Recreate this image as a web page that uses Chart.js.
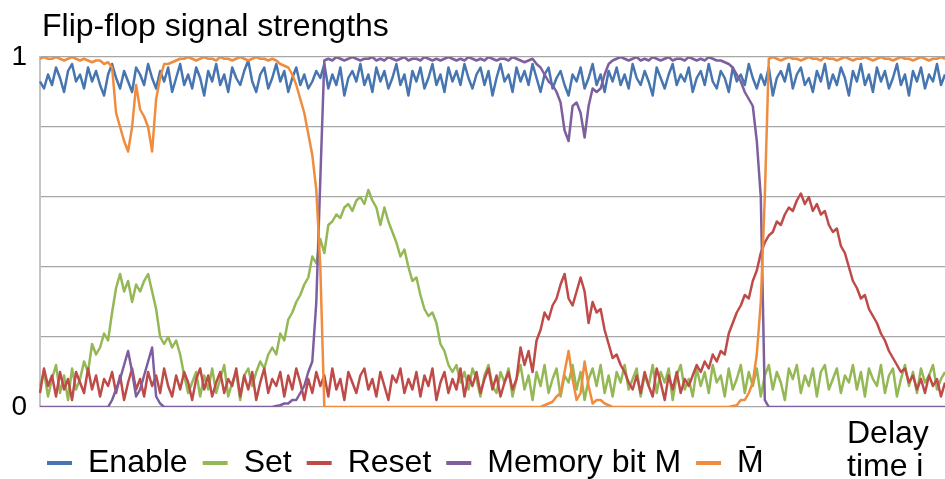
<!DOCTYPE html>
<html><head><meta charset="utf-8">
<script src="https://cdn.jsdelivr.net/npm/chart.js@4.4.0/dist/chart.umd.min.js"></script>
<style>html,body{margin:0;padding:0;background:#fff;}#wrap{width:945px;height:479px;position:relative;}</style>
</head><body><div id="wrap"><canvas id="c" width="945" height="479"></canvas></div>
<script>
const chartTitle = 'Flip-flop signal strengths';
const xAxisTitle = ['Delay', 'time i'];
const seriesNames = ['Enable', 'Set', 'Reset', 'Memory bit M', 'M\u0304'];
const yTickLabels = ['0', '', '', '', '', '1'];

const enable = [
.93,.91,.95,.92,.97,.94,.90,.96,.98,.93,
.95,.91,.97,.93,.96,.92,.89,.95,.98,.94,
.91,.96,.93,.90,.97,.95,.92,.98,.94,.91,
.96,.93,.97,.90,.94,.98,.92,.95,.91,.97,
.94,.89,.96,.93,.98,.92,.95,.90,.97,.94,
.92,.96,.99,.93,.90,.95,.97,.91,.94,.98,
.93,.96,.90,.94,.97,.92,.95,.91,.93,.96,
.94,.98,.91,.95,.92,.97,.89,.94,.96,.93,
.98,.92,.95,.90,.97,.93,.96,.91,.94,.98,
.92,.95,.89,.96,.93,.97,.91,.94,.98,.92,
.95,.90,.97,.93,.96,.92,.98,.94,.91,.95,
.97,.92,.96,.89,.94,.98,.93,.95,.90,.97,
.93,.96,.92,.98,.94,.90,.95,.97,.91,.94,
.96,.92,.89,.95,.93,.97,.91,.94,.98,.92,
.95,.90,.96,.93,.97,.92,.95,.91,.98,.94,
.92,.96,.93,.89,.97,.94,.91,.95,.98,.92,
.95,.93,.97,.90,.94,.96,.92,.98,.93,.91,
.96,.94,.90,.97,.93,.95,.92,.98,.94,.91,
.95,.92,.97,.89,.94,.96,.93,.98,.91,.95,
.97,.92,.94,.90,.96,.93,.98,.91,.95,.92,
.97,.94,.89,.96,.93,.98,.92,.95,.90,.97,
.93,.96,.91,.94,.98,.92,.95,.89,.96,.93,
.97,.91,.95,.93,.98,.92,.95];

const setSignal = [
.06,.10,.03,.08,.12,.04,.09,.02,.11,.05,
.08,.13,.10,.18,.15,.17,.21,.19,.27,.34,
.38,.33,.36,.30,.35,.33,.36,.38,.33,.28,
.20,.18,.20,.17,.19,.15,.09,.04,.07,.10,
.03,.09,.05,.11,.04,.08,.12,.03,.07,.10,
.02,.09,.11,.06,.10,.13,.11,.15,.17,.15,
.21,.19,.25,.27,.30,.32,.35,.37,.43,.41,
.48,.44,.52,.53,.55,.54,.57,.58,.56,.59,
.60,.58,.62,.59,.57,.52,.57,.53,.50,.47,
.43,.45,.40,.36,.37,.32,.28,.26,.27,.24,
.18,.16,.12,.10,.12,.07,.10,.05,.11,.08,
.03,.09,.12,.06,.04,.10,.07,.11,.03,.08,
.12,.05,.09,.02,.10,.06,.12,.04,.08,.11,
.03,.09,.07,.12,.05,.10,.02,.08,.11,.06,
.12,.04,.09,.03,.10,.07,.12,.05,.08,.11,
.03,.09,.06,.12,.04,.10,.07,.11,.02,.09,
.12,.05,.08,.03,.11,.06,.10,.04,.12,.07,
.09,.03,.11,.05,.08,.12,.04,.10,.06,.11,
.03,.09,.12,.05,.10,.07,.02,.11,.08,.12,
.04,.09,.06,.11,.03,.10,.12,.05,.08,.11,
.04,.09,.07,.12,.05,.10,.03,.11,.08,.06,
.12,.04,.09,.11,.03,.08,.12,.06,.10,.04,
.11,.07,.09,.12,.05,.08,.10];

const resetSignal = [
.04,.11,.06,.09,.03,.10,.05,.08,.02,.10,
.07,.04,.11,.05,.09,.03,.08,.06,.10,.04,
.09,.02,.07,.11,.05,.08,.03,.10,.06,.09,
.04,.11,.06,.03,.09,.05,.10,.07,.02,.08,
.11,.05,.09,.03,.07,.10,.04,.08,.06,.11,
.03,.09,.05,.10,.02,.07,.11,.04,.08,.06,
.10,.03,.09,.05,.11,.07,.02,.08,.04,.10,
.06,.09,.03,.11,.05,.08,.02,.10,.07,.04,
.09,.11,.05,.08,.03,.10,.06,.02,.09,.07,
.11,.04,.08,.05,.10,.03,.09,.06,.11,.02,
.07,.10,.04,.08,.05,.11,.03,.09,.06,.10,
.04,.08,.11,.05,.09,.03,.07,.10,.05,.08,
.17,.12,.16,.10,.19,.22,.27,.25,.29,.31,
.35,.38,.31,.29,.33,.37,.33,.24,.30,.27,
.28,.22,.18,.14,.15,.12,.10,.07,.05,.09,
.04,.10,.06,.03,.11,.07,.02,.09,.05,.10,
.04,.08,.06,.09,.12,.10,.13,.11,.15,.13,
.16,.15,.21,.24,.27,.29,.32,.31,.36,.39,
.44,.47,.49,.50,.53,.52,.55,.57,.56,.59,
.61,.58,.60,.56,.58,.55,.56,.52,.50,.51,
.46,.44,.40,.36,.34,.31,.32,.28,.26,.24,
.21,.19,.16,.14,.12,.10,.11,.07,.09,.05,
.08,.04,.09,.06,.08,.03,.07];

const memoryBit = [
0,0,0,0,0,0,0,0,0,0,
0,0,0,0,0,0,0,0,.02,.05,
.08,.12,.16,.10,.03,.05,.09,.13,.17,.03,
.01,0,0,0,0,0,0,0,0,0,
0,0,0,0,0,0,0,0,0,0,
0,0,0,0,0,0,0,0,0,.003,
.005,.01,.01,.02,.02,.04,.06,.10,.13,.30,
.65,.99,.995,.99,1,.995,.99,.995,1,.995,
.99,.995,.995,1,.99,.995,.99,1,.995,.99,
.995,1,.99,.995,.995,.99,1,.995,.99,.995,
.99,.995,1,.995,.99,.995,.99,1,.995,.99,
.995,.99,1,.995,.99,.995,.995,.99,1,.995,
.99,.985,.99,.995,.98,.97,.95,.93,.92,.90,
.87,.79,.76,.86,.87,.84,.77,.86,.91,.90,
.91,.95,.98,.99,.995,1,.995,.99,.995,1,
.99,.995,.99,1,.995,.99,.995,1,.99,.995,
.995,.99,1,.995,.99,.995,.99,1,.995,.99,
.99,.985,.98,.97,.95,.93,.90,.88,.86,.76,
.60,.02,0,0,0,0,0,0,0,0,
0,0,0,0,0,0,0,0,0,0,
0,0,0,0,0,0,0,0,0,0,
0,0,0,0,0,0,0,0,0,0,
0,0,0,0,0,0,0];

const memoryBitNot = [
.995,1,.995,.995,1,.995,.99,.995,1,.995,
.99,.995,.99,.985,.99,.99,.98,.985,.97,.84,
.80,.76,.73,.80,.92,.85,.83,.80,.73,.88,
.94,.98,.98,.985,.99,.995,.995,1,.995,.99,
.995,1,.995,.995,.99,1,.995,.995,.99,.995,
1,.995,.99,.995,1,.995,.995,.99,.995,.99,
.98,.975,.97,.95,.92,.88,.84,.78,.72,.62,
.40,0,0,0,0,0,0,0,0,0,
0,0,0,0,0,0,0,0,0,0,
0,0,0,0,0,0,0,0,0,0,
0,0,0,0,0,0,0,0,0,0,
0,0,0,0,0,0,0,0,0,0,
0,0,0,0,0,0,.005,.01,.015,.03,
.04,.10,.16,.08,.02,.04,.13,.06,.01,.02,
.02,.01,.005,0,0,0,0,0,0,0,
0,0,0,0,0,0,0,0,0,0,
0,0,0,0,0,0,0,0,0,0,
0,0,0,.003,.005,.02,.02,.04,.07,.15,
.30,.60,.995,1,.995,.99,.995,1,.995,.995,
.99,.995,1,.995,.995,.99,1,.995,.995,.99,
.995,1,.995,.99,.995,.995,1,.995,.99,.995,
1,.995,.995,.99,.995,1,.995,.995,.99,.995,
1,.995,.99,.995,.995,1,.995];

const categories = enable.map((_, i) => i);
const seriesValues = [enable, setSignal, resetSignal, memoryBit, memoryBitNot];
const seriesColors = ['#4675B0', '#94B856', '#BE4B48', '#7D5FA0', '#F08C3E'];
const FONT = '"Liberation Sans", Arial, sans-serif';

const textPlugin = {
  id: 'extraTexts',
  afterLayout(chart) {
    if (chart.legend) { chart.legend.left = 32; }
  },
  afterDraw(chart) {
    const ctx = chart.ctx;
    ctx.save();
    ctx.fillStyle = '#000';
    ctx.textAlign = 'left';
    ctx.textBaseline = 'alphabetic';
    ctx.font = '32px ' + FONT;
    ctx.fillText(chartTitle, 42, 36);
    ctx.fillText(xAxisTitle[0], 847, 443);
    ctx.fillText(xAxisTitle[1], 847, 476);
    ctx.restore();
  }
};

new Chart(document.getElementById('c'), {
  type: 'line',
  data: {
    labels: categories,
    datasets: seriesNames.map((name, k) => ({
      label: name,
      data: seriesValues[k],
      borderColor: seriesColors[k],
      backgroundColor: seriesColors[k],
      borderWidth: 2.5,
      pointRadius: 0,
      tension: 0,
      fill: false,
      borderJoinStyle: 'round',
      order: 5 - k
    }))
  },
  options: {
    responsive: false,
    animation: false,
    devicePixelRatio: 1,
    layout: { padding: { left: 0, top: 57, right: 0, bottom: -10 } },
    plugins: {
      title: { display: false },
      tooltip: { enabled: false },
      legend: {
        position: 'bottom',
        align: 'start',
        labels: {
          usePointStyle: true,
          pointStyle: 'line',
          pointStyleWidth: 25,
          padding: 15,
          color: '#000',
          font: { size: 32, family: FONT },
          sort: (a, b) => a.datasetIndex - b.datasetIndex,
          generateLabels(chart) {
            const items = Chart.defaults.plugins.legend.labels.generateLabels(chart);
            items.forEach(it => { it.lineWidth = 4; it.pointStyle = 'line'; });
            return items;
          }
        }
      }
    },
    scales: {
      x: {
        type: 'category',
        display: true,
        grid: { display: false },
        border: { display: false },
        ticks: { display: false },
        afterFit(s) { s.height = 25; }
      },
      y: {
        min: 0,
        max: 1,
        ticks: {
          stepSize: 0.2,
          padding: 13,
          color: '#000',
          font: { size: 28, family: FONT },
          callback: (v, i) => yTickLabels[i]
        },
        grid: { color: '#a6a6a6', lineWidth: 1.2, drawTicks: false },
        border: { display: true, color: '#c4c4c4', width: 2 },
        afterFit(s) { s.width = 40; }
      }
    }
  },
  plugins: [textPlugin]
});
</script>
</body></html>
